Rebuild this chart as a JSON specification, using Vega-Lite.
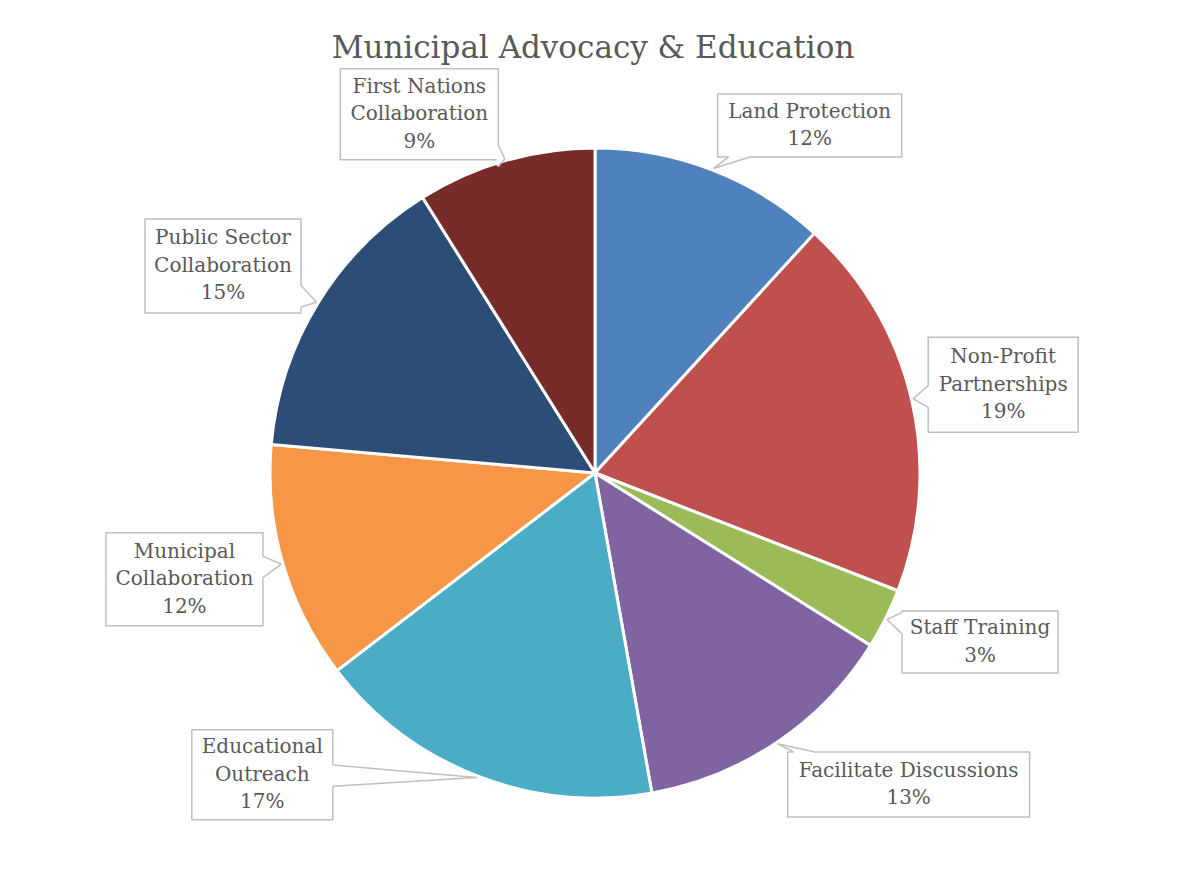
{
  "$schema": "https://vega.github.io/schema/vega-lite/v6.json",
  "width": 1186,
  "height": 809,
  "autosize": {"type": "none"},
  "padding": {"left": 0, "top": 70, "right": 0, "bottom": 0},
  "background": "white",
  "title": {
    "text": "Municipal Advocacy & Education",
    "font": "DejaVu Serif",
    "fontSize": 31,
    "fontWeight": "normal",
    "color": "#595959",
    "anchor": "middle",
    "offset": -21,
    "baseline": "alphabetic"
  },
  "config": {"view": {"stroke": null}},
  "data": {
    "values": [
      {"category": "Land Protection", "order": 1, "value": 11.8},
      {"category": "Non-Profit Partnerships", "order": 2, "value": 19.1},
      {"category": "Staff Training", "order": 3, "value": 3.0},
      {"category": "Facilitate Discussions", "order": 4, "value": 13.3},
      {"category": "Educational Outreach", "order": 5, "value": 17.4},
      {"category": "Municipal Collaboration", "order": 6, "value": 11.8},
      {"category": "Public Sector Collaboration", "order": 7, "value": 14.7},
      {"category": "First Nations Collaboration", "order": 8, "value": 8.9}
    ]
  },
  "transform": [
    {"stack": "value", "groupby": [], "sort": [{"field": "order"}], "as": ["v0", "v1"]},
    {"calculate": "(datum.v0 + datum.v1) / 2 * 3.6", "as": "midDeg"},
    {"calculate": "(datum.midDeg + [10.46, 0.94, -2.94, -11.18, 26.56, 1.7, -2.4, -10.08][datum.order - 1]) * PI / 180", "as": "labRad"},
    {"calculate": "[1.257, 1.285, 1.294, 1.36, 1.382, 1.305, 1.31, 1.229][datum.order - 1]", "as": "labR"},
    {"calculate": "datum.labR * sin(datum.labRad)", "as": "lx"},
    {"calculate": "datum.labR * cos(datum.labRad)", "as": "ly"},
    {"calculate": "1.005 * sin(datum.midDeg * PI / 180)", "as": "tx"},
    {"calculate": "1.005 * cos(datum.midDeg * PI / 180)", "as": "ty"},
    {"calculate": "[0.2831, 0.2308, 0.24, 0.3723, 0.2169, 0.2415, 0.24, 0.2431][datum.order - 1]", "as": "hw"},
    {"calculate": "[0.0969, 0.1462, 0.0954, 0.1, 0.1385, 0.1431, 0.1446, 0.14][datum.order - 1]", "as": "hh"},
    {"calculate": "datum.lx - datum.hw", "as": "bx1"},
    {"calculate": "datum.lx + datum.hw", "as": "bx2"},
    {"calculate": "datum.ly - datum.hh", "as": "by1"},
    {"calculate": "datum.ly + datum.hh", "as": "by2"},
    {"calculate": "datum.tx - datum.lx", "as": "ddx"},
    {"calculate": "datum.ty - datum.ly", "as": "ddy"},
    {"calculate": "datum.hw / max(abs(datum.ddx), 1e-6)", "as": "sx"},
    {"calculate": "datum.hh / max(abs(datum.ddy), 1e-6)", "as": "sy"},
    {"calculate": "min(datum.sx, datum.sy)", "as": "ss"},
    {"calculate": "datum.lx + datum.ss * datum.ddx", "as": "px"},
    {"calculate": "datum.ly + datum.ss * datum.ddy", "as": "py"},
    {"calculate": "datum.sx < datum.sy ? datum.px : datum.px - 0.033", "as": "w1x"},
    {"calculate": "datum.sx < datum.sy ? datum.py - 0.033 : datum.py", "as": "w1y"},
    {"calculate": "datum.sx < datum.sy ? datum.px : datum.px + 0.033", "as": "w2x"},
    {"calculate": "datum.sx < datum.sy ? datum.py + 0.033 : datum.py", "as": "w2y"},
    {"calculate": "replace(datum.category, regexp(' (Collaboration|Partnerships|Outreach)'), '\\n$1') + '\\n' + format(datum.value / 100, '.0%')", "as": "label"},
    {"calculate": "datum.ly + (length(split(datum.label, '\\n')) - 1) / 2 * 27.5 / 325", "as": "textY"}
  ],
  "layer": [
    {
      "mark": {"type": "arc", "outerRadius": 325, "stroke": "white", "strokeWidth": 3},
      "encoding": {
        "theta": {"field": "v0", "type": "quantitative", "stack": null, "scale": {"domain": [0, 100]}},
        "theta2": {"field": "v1"},
        "x": {"datum": 0, "type": "quantitative", "scale": {"domain": [-1.8308, 1.8185], "nice": false, "zero": false}, "axis": null},
        "y": {"datum": 0, "type": "quantitative", "scale": {"domain": [-1.2492, 1.24], "nice": false, "zero": false}, "axis": null},
        "color": {
          "field": "category",
          "type": "nominal",
          "scale": {
            "domain": ["Land Protection", "Non-Profit Partnerships", "Staff Training", "Facilitate Discussions", "Educational Outreach", "Municipal Collaboration", "Public Sector Collaboration", "First Nations Collaboration"],
            "range": ["#4F81BD", "#C0504D", "#9BBB59", "#8064A2", "#4BACC6", "#F79646", "#2C4D75", "#772C2A"]
          },
          "legend": null
        }
      }
    },
    {
      "mark": {"type": "rect", "fill": "white", "stroke": "#BFBFBF", "strokeWidth": 1.5},
      "encoding": {
        "x": {"field": "bx1", "type": "quantitative"},
        "x2": {"field": "bx2"},
        "y": {"field": "by1", "type": "quantitative"},
        "y2": {"field": "by2"}
      }
    },
    {
      "mark": {"type": "rule", "stroke": "white", "strokeWidth": 3},
      "encoding": {
        "x": {"field": "w1x", "type": "quantitative"},
        "y": {"field": "w1y", "type": "quantitative"},
        "x2": {"field": "w2x"},
        "y2": {"field": "w2y"}
      }
    },
    {
      "mark": {"type": "rule", "stroke": "#BFBFBF", "strokeWidth": 1.5},
      "encoding": {
        "x": {"field": "tx", "type": "quantitative"},
        "y": {"field": "ty", "type": "quantitative"},
        "x2": {"field": "w1x"},
        "y2": {"field": "w1y"}
      }
    },
    {
      "mark": {"type": "rule", "stroke": "#BFBFBF", "strokeWidth": 1.5},
      "encoding": {
        "x": {"field": "tx", "type": "quantitative"},
        "y": {"field": "ty", "type": "quantitative"},
        "x2": {"field": "w2x"},
        "y2": {"field": "w2y"}
      }
    },
    {
      "mark": {"type": "text", "font": "DejaVu Serif", "fontSize": 20, "color": "#595959", "lineBreak": "\n", "lineHeight": 27.5, "align": "center", "baseline": "middle"},
      "encoding": {
        "x": {"field": "lx", "type": "quantitative"},
        "y": {"field": "textY", "type": "quantitative"},
        "text": {"field": "label"}
      }
    }
  ]
}
